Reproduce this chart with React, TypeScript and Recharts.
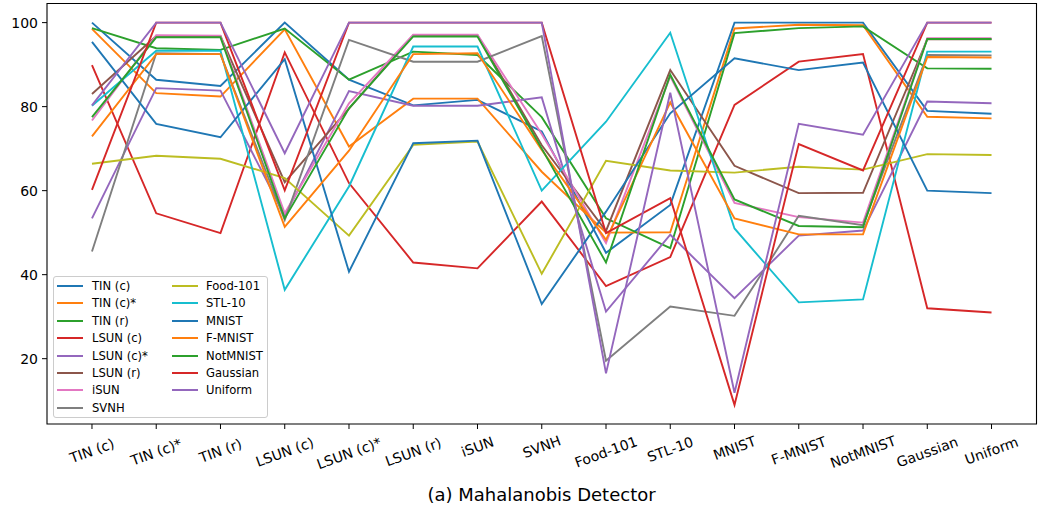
import React from 'react';
import { LineChart, Line, XAxis, YAxis, ReferenceArea } from 'recharts';

const categories = ['TIN (c)', 'TIN (c)*', 'TIN (r)', 'LSUN (c)', 'LSUN (c)*', 'LSUN (r)', 'iSUN', 'SVNH', 'Food-101', 'STL-10', 'MNIST', 'F-MNIST', 'NotMNIST', 'Gaussian', 'Uniform'];

const tinC = [100, 86.4, 84.9, 100, 86.4, 80.3, 81.6, 74.1, 45.2, 56.6, 100, 100, 100, 79.0, 78.3];
const tinCStar = [98.5, 83.2, 82.4, 98.4, 70.5, 81.9, 81.9, 64.5, 50.0, 50.1, 98.6, 99.5, 99.4, 77.6, 77.2];
const tinR = [98.7, 93.9, 93.5, 98.6, 86.4, 93.1, 92.3, 77.5, 53.4, 46.3, 97.5, 98.7, 99.1, 89.1, 89.0];
const lsunC = [89.9, 54.6, 49.9, 92.9, 61.8, 42.9, 41.5, 57.4, 37.3, 44.2, 80.4, 90.7, 92.5, 32.0, 31.0];
const lsunCStar = [53.4, 84.4, 83.8, 54.0, 83.7, 80.2, 80.2, 82.2, 31.2, 49.5, 34.4, 49.3, 50.5, 81.2, 80.8];
const lsunR = [83.0, 96.8, 96.8, 62.0, 79.5, 97.0, 97.0, 70.8, 50.4, 88.7, 65.9, 59.4, 59.5, 96.0, 96.0];
const isun = [76.7, 97.0, 96.9, 54.6, 80.8, 97.1, 97.1, 73.5, 47.5, 87.2, 57.1, 53.7, 52.4, 96.3, 96.3];
const svnh = [45.5, 92.7, 92.5, 53.0, 95.9, 90.7, 90.7, 96.8, 19.5, 32.4, 30.2, 54.0, 51.8, 92.3, 92.2];
const food101 = [66.4, 68.3, 67.6, 63.0, 49.3, 70.9, 71.7, 40.2, 67.1, 64.8, 64.3, 65.7, 65.0, 68.7, 68.5];
const stl10 = [80.2, 93.3, 93.3, 36.4, 61.0, 94.3, 94.3, 60.0, 76.4, 97.6, 51.0, 33.4, 34.1, 93.1, 93.1];
const mnist = [95.4, 75.9, 72.7, 91.3, 40.7, 71.3, 71.9, 33.0, 55.0, 78.4, 91.5, 88.7, 90.5, 60.0, 59.4];
const fmnist = [72.9, 92.5, 92.5, 51.4, 69.5, 92.5, 92.7, 69.7, 48.3, 81.0, 53.4, 49.6, 49.6, 91.8, 91.7];
const notmnist = [77.5, 96.5, 96.5, 53.4, 79.6, 96.7, 96.7, 70.0, 42.9, 87.6, 57.9, 51.6, 51.3, 96.1, 96.1];
const gaussian = [60.2, 100, 100, 60.1, 100, 100, 100, 100, 49.9, 58.2, 9.0, 71.1, 64.8, 100, 100];
const uniform = [80.3, 100, 100, 68.9, 100, 100, 100, 100, 16.5, 83.3, 11.9, 75.9, 73.3, 100, 100];

const seriesNames = ['TIN (c)', 'TIN (c)*', 'TIN (r)', 'LSUN (c)', 'LSUN (c)*', 'LSUN (r)', 'iSUN', 'SVNH', 'Food-101', 'STL-10', 'MNIST', 'F-MNIST', 'NotMNIST', 'Gaussian', 'Uniform'];
const seriesValues = [tinC, tinCStar, tinR, lsunC, lsunCStar, lsunR, isun, svnh, food101, stl10, mnist, fmnist, notmnist, gaussian, uniform];
const colors = ['#1f77b4', '#ff7f0e', '#2ca02c', '#d62728', '#9467bd', '#8c564b', '#e377c2', '#7f7f7f', '#bcbd22', '#17becf', '#1f77b4', '#ff7f0e', '#2ca02c', '#d62728', '#9467bd'];

const yTicks = [20, 40, 60, 80, 100];
const title = '(a) Mahalanobis Detector';

const data = categories.map((c, i) => {
  const row: any = { x: i, name: c };
  seriesValues.forEach((vals, k) => {
    row['s' + k] = vals[i];
  });
  return row;
});

const FONT = 'DejaVu Sans, sans-serif';

const XTick = (props: any) => {
  const { x, y, payload } = props;
  const label = categories[payload.value] ?? '';
  const w = label.length * 7.6;
  const h = 16;
  const a = (20 * Math.PI) / 180;
  const halfH = (w * Math.sin(a) + h * Math.cos(a)) / 2;
  return (
    <text
      x={0}
      y={0}
      transform={`translate(${x},${y + halfH}) rotate(-20)`}
      textAnchor="middle"
      dominantBaseline="central"
      fontSize={14}
      fontFamily={FONT}
      fill="#000"
    >
      {label}
    </text>
  );
};

export default function App() {
  const rowH = 17.38;
  return (
    <div style={{ position: 'absolute', left: 0, top: 0, width: 1039, height: 510, background: '#fff', fontFamily: FONT }}>
      <LineChart width={1039} height={510} data={data} margin={{ top: 3.5, right: 2.5, left: 0, bottom: 26 }}>
        <XAxis
          dataKey="x"
          type="number"
          domain={[-0.7, 14.7]}
          ticks={categories.map((_, i) => i)}
          interval={0}
          height={60}
          axisLine={false}
          tickLine={{ stroke: '#000', strokeWidth: 1 }}
          tickSize={5}
          tickMargin={5}
          tick={<XTick />}
        />
        <YAxis
          type="number"
          domain={[4.45, 104.55]}
          ticks={yTicks}
          width={47}
          axisLine={false}
          tickLine={{ stroke: '#000', strokeWidth: 1 }}
          tickSize={5}
          tickMargin={4}
          tick={{ fill: '#000', fontSize: 14, fontFamily: FONT }}
        />
        {seriesNames.map((n, k) => (
          <Line
            key={n}
            type="linear"
            dataKey={'s' + k}
            name={n}
            stroke={colors[k]}
            strokeWidth={1.9}
            dot={false}
            activeDot={false}
            isAnimationActive={false}
          />
        ))}
        <ReferenceArea x1={-0.7} x2={14.7} y1={4.45} y2={104.55} fill="none" stroke="#000" strokeWidth={1.1} />
      </LineChart>
      <div
        style={{
          position: 'absolute',
          left: 53,
          top: 276,
          width: 215,
          height: 142,
          border: '1px solid #cccccc',
          borderRadius: 3,
          background: 'rgba(255,255,255,0.8)',
          boxSizing: 'border-box',
        }}
      >
        {seriesNames.map((n, k) => {
          const col = k < 8 ? 0 : 1;
          const row = k < 8 ? k : k - 8;
          const cy = 9 + row * rowH;
          const hx = col === 0 ? 3 : 118;
          const tx = col === 0 ? 38 : 152;
          return (
            <React.Fragment key={n}>
              <div style={{ position: 'absolute', left: hx, top: cy - 1, width: 26, height: 2, background: colors[k] }} />
              <div style={{ position: 'absolute', left: tx, top: cy - 8, height: 16, lineHeight: '16px', fontSize: 11.6, color: '#000', whiteSpace: 'nowrap' }}>{n}</div>
            </React.Fragment>
          );
        })}
      </div>
      <div style={{ position: 'absolute', left: 0, width: 1083, top: 483, textAlign: 'center', fontSize: 18, lineHeight: '24px', color: '#000' }}>{title}</div>
    </div>
  );
}
